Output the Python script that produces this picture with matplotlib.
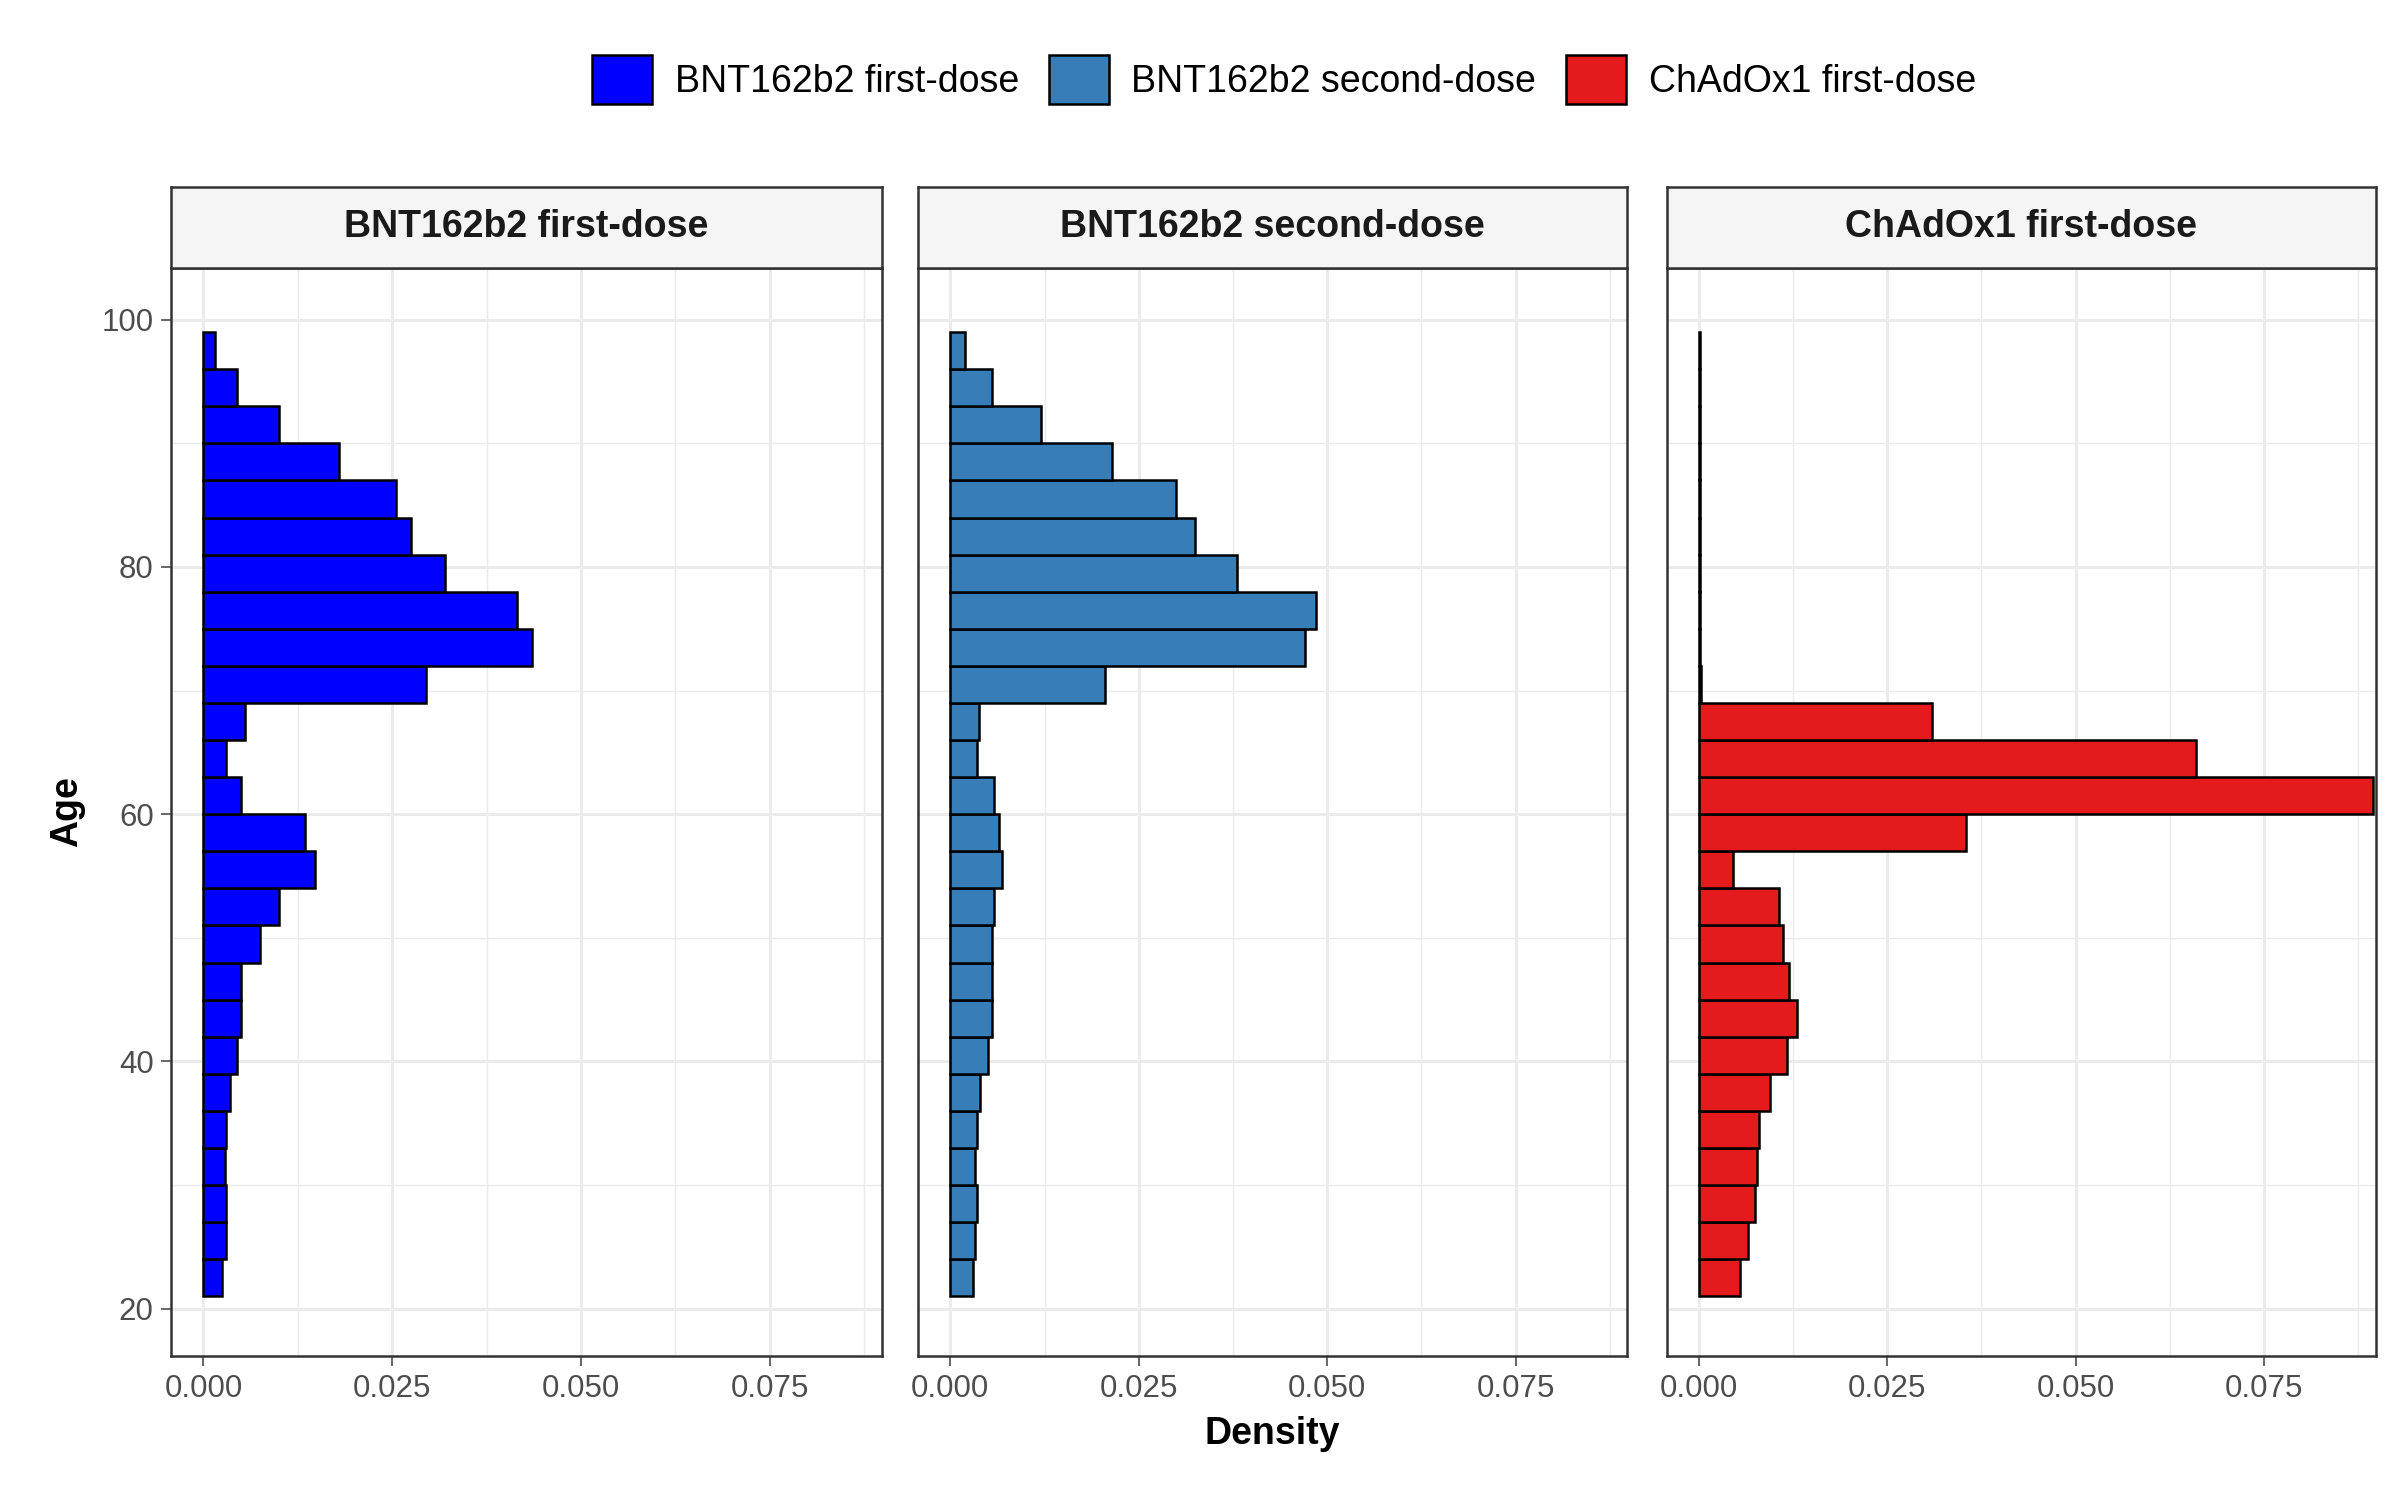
import numpy as np
import matplotlib.pyplot as plt
from matplotlib.patches import Patch

plt.rcParams['font.family'] = ['Liberation Sans', 'DejaVu Sans']

titles = ['BNT162b2 first-dose', 'BNT162b2 second-dose', 'ChAdOx1 first-dose']
colors = ['#0000FF', '#377EB8', '#E41A1C']
bin_edges = np.arange(21, 100, 3)  # 21..99

# densities from the top bin (96-99) down to the bottom bin (21-24)
bnt_first = [0.0015, 0.0045, 0.010, 0.018, 0.0255, 0.0275, 0.032, 0.0415, 0.0435, 0.0295,
             0.0055, 0.003, 0.005, 0.0135, 0.0148, 0.010, 0.0075, 0.005, 0.005, 0.0045,
             0.0035, 0.003, 0.0028, 0.003, 0.003, 0.0025]
bnt_second = [0.002, 0.0055, 0.012, 0.0215, 0.030, 0.0325, 0.038, 0.0485, 0.047, 0.0205,
              0.0038, 0.0035, 0.0058, 0.0065, 0.0068, 0.0058, 0.0055, 0.0055, 0.0055, 0.005,
              0.004, 0.0035, 0.0033, 0.0035, 0.0033, 0.003]
chad_first = [0.0001, 0.0001, 0.0001, 0.0001, 0.0001, 0.0001, 0.0001, 0.0001, 0.0001, 0.0003,
              0.031, 0.066, 0.0895, 0.0355, 0.0045, 0.0107, 0.0112, 0.012, 0.013, 0.0117,
              0.0095, 0.008, 0.0077, 0.0075, 0.0065, 0.0055]
series = [bnt_first[::-1], bnt_second[::-1], chad_first[::-1]]

W, H = 1568, 980
fig = plt.figure(figsize=(16, 10), dpi=150)
panels = [(112, 576), (600, 1063), (1089, 1552)]
top, strip_bot, bot = 122, 175, 886

for i, ((x0, x1), title, col, vals) in enumerate(zip(panels, titles, colors, series)):
    ax = fig.add_axes([x0 / W, 1 - bot / H, (x1 - x0) / W, (bot - strip_bot) / H])
    ax.barh(bin_edges[:-1], vals, height=3, align='edge', color=col,
            edgecolor='black', linewidth=1.2, zorder=3)
    ax.set_xlim(-0.00424, 0.0898)
    ax.set_ylim(16.16, 104.2)
    ax.set_xticks([0, 0.025, 0.05, 0.075])
    ax.set_xticklabels(['0.000', '0.025', '0.050', '0.075'])
    ax.set_xticks([0.0125, 0.0375, 0.0625, 0.0875], minor=True)
    ax.set_yticks([20, 40, 60, 80, 100])
    ax.set_yticks([30, 50, 70, 90], minor=True)
    ax.grid(True, which='major', color='#EBEBEB', linewidth=1.4, zorder=0)
    ax.grid(True, which='minor', color='#EBEBEB', linewidth=0.7, zorder=0)
    ax.tick_params(which='minor', length=0)
    ax.tick_params(which='major', labelsize=15, colors='#4D4D4D', length=5)
    for s in ax.spines.values():
        s.set_color('#333333')
        s.set_linewidth(1.2)
    if i > 0:
        ax.set_yticklabels([])
        ax.tick_params(axis='y', length=0)
    else:
        ax.set_ylabel('Age', fontsize=18, fontweight='bold', labelpad=8)
    if i == 1:
        ax.set_xlabel('Density', fontsize=18, fontweight='bold', labelpad=6)
    sax = fig.add_axes([x0 / W, 1 - strip_bot / H, (x1 - x0) / W, (strip_bot - top) / H])
    sax.set_facecolor('#F5F5F5')
    sax.set_xticks([]); sax.set_yticks([])
    for s in sax.spines.values():
        s.set_color('#333333')
        s.set_linewidth(1.2)
    sax.text(0.5, 0.5, title, ha='center', va='center', fontsize=18, fontweight='bold',
             color='#1A1A1A', transform=sax.transAxes)

handles = [Patch(facecolor=c, edgecolor='black', linewidth=1.2) for c in colors]
fig.legend(handles, titles, loc='center', bbox_to_anchor=(0.535, 1 - 52 / H), ncol=3,
           frameon=False, fontsize=18, handlelength=1.6, handleheight=1.6,
           columnspacing=0.8, handletextpad=0.6)

fig.savefig('out.png', dpi=150)
